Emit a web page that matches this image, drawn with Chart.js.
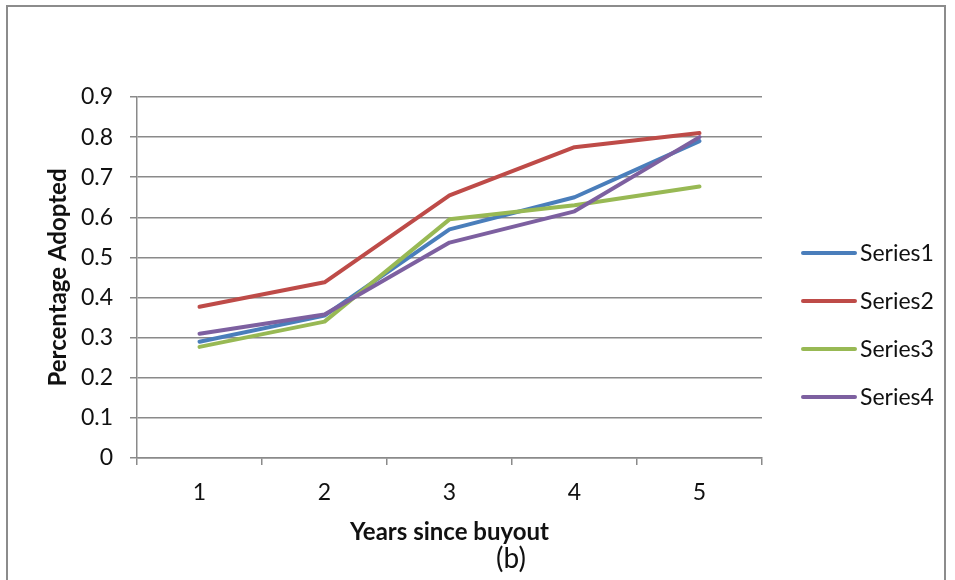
<!DOCTYPE html>
<html>
<head>
<meta charset="utf-8">
<script src="https://cdn.jsdelivr.net/npm/chart.js@4.4.0/dist/chart.umd.min.js"></script>
<style>
  html, body { margin: 0; padding: 0; background: #fff; }
  #wrap { width: 955px; height: 580px; position: relative; }
</style>
</head>
<body>
<div id="wrap"><canvas id="c" width="955" height="580"></canvas></div>
<script>
// Share of units that adopted the practice, by years since buyout
const years = ['1', '2', '3', '4', '5'];
const seriesNames = ['Series1', 'Series2', 'Series3', 'Series4'];
const series1 = [0.290, 0.355, 0.570, 0.650, 0.790];
const series2 = [0.377, 0.438, 0.655, 0.775, 0.810];
const series3 = [0.277, 0.340, 0.595, 0.630, 0.677];
const series4 = [0.310, 0.358, 0.537, 0.615, 0.800];
const seriesColors = ['#4a7ebb', '#be4b48', '#98b954', '#7d60a0'];
const yMin = 0, yMax = 0.9, yStep = 0.1;
const caption = '(b)';

const FONT = 'Lato, "Open Sans", sans-serif';
const GRID = '#8a8a8a';

// outer frame and white background
const framePlugin = {
  id: 'frame',
  beforeDraw(chart) {
    const ctx = chart.ctx;
    ctx.save();
    ctx.fillStyle = '#fff';
    ctx.fillRect(0, 0, chart.width, chart.height);
    ctx.strokeStyle = '#8c8c8c';
    ctx.lineWidth = 2;
    ctx.strokeRect(7, 6, 938, 590);
    ctx.restore();
  }
};

// legend at the right of the plot, line samples with labels
const sideLegend = {
  id: 'sideLegend',
  afterDraw(chart) {
    const ctx = chart.ctx;
    ctx.save();
    ctx.font = '23px ' + FONT;
    ctx.textBaseline = 'middle';
    ctx.textAlign = 'left';
    chart.data.datasets.forEach((ds, i) => {
      const y = 253 + i * 48;
      ctx.strokeStyle = ds.borderColor;
      ctx.lineWidth = 4;
      ctx.lineCap = 'round';
      ctx.beginPath();
      ctx.moveTo(803, y);
      ctx.lineTo(855, y);
      ctx.stroke();
      ctx.fillStyle = '#111';
      ctx.fillText(ds.label, 860, y + 1);
    });
    ctx.restore();
  }
};

// panel caption under the axis title
const captionPlugin = {
  id: 'caption',
  afterDraw(chart) {
    const ctx = chart.ctx;
    ctx.save();
    ctx.font = '28px ' + FONT;
    ctx.fillStyle = '#111';
    ctx.textAlign = 'center';
    ctx.textBaseline = 'middle';
    ctx.fillText(caption, 511, 559);
    ctx.restore();
  }
};

const allSeries = [series1, series2, series3, series4];

new Chart(document.getElementById('c'), {
  type: 'line',
  data: {
    labels: years,
    datasets: allSeries.map((vals, i) => ({
      label: seriesNames[i],
      data: vals,
      borderColor: seriesColors[i],
      backgroundColor: seriesColors[i],
      borderWidth: 4,
      pointRadius: 0,
      tension: 0,
      borderJoinStyle: 'round',
      borderCapStyle: 'round',
      order: allSeries.length - i
    }))
  },
  options: {
    responsive: false,
    animation: false,
    layout: { padding: { left: 0, top: 97, right: 193, bottom: 0 } },
    plugins: {
      legend: { display: false },
      tooltip: { enabled: false }
    },
    scales: {
      x: {
        type: 'category',
        offset: true,
        grid: { offset: true, drawOnChartArea: false, color: GRID, lineWidth: 1.5, tickLength: 7 },
        border: { color: GRID, width: 1.5 },
        ticks: { color: '#111', font: { family: FONT, size: 23 }, padding: 14 },
        title: {
          display: true,
          text: 'Years since buyout',
          color: '#111',
          font: { family: FONT, size: 24, weight: 'bold' },
          padding: { top: 0, bottom: 33 }
        },
        afterFit(scale) { scale.height = 122; }
      },
      y: {
        min: yMin,
        max: yMax,
        grid: { color: GRID, lineWidth: 1.5, tickLength: 7 },
        border: { color: GRID, width: 1.5 },
        ticks: {
          stepSize: yStep,
          color: '#111',
          font: { family: FONT, size: 23 },
          padding: 17,
          callback: v => (Math.abs(v) < 1e-9 ? '0' : v.toFixed(1))
        },
        title: {
          display: true,
          text: 'Percentage Adopted',
          color: '#111',
          font: { family: FONT, size: 24, weight: 'bold' },
          padding: { top: 44, bottom: 0 }
        },
        afterFit(scale) { scale.width = 137; }
      }
    }
  },
  plugins: [framePlugin, sideLegend, captionPlugin]
});
</script>
</body>
</html>
